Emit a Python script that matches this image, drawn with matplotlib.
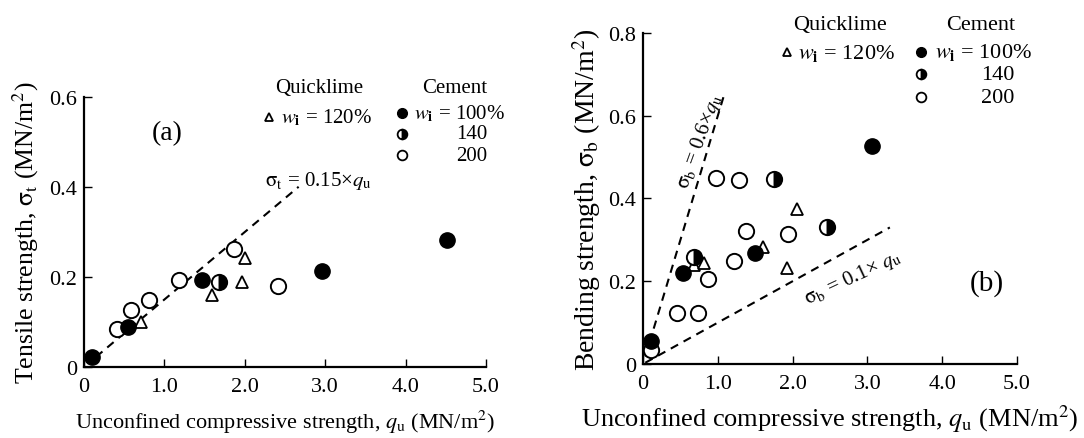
import numpy as np
from matplotlib import pyplot as plt

plt.rcParams["font.family"] = ["Liberation Serif", "DejaVu Serif"]
plt.rcParams["mathtext.fontset"] = "stix"

# (a) tensile strength vs unconfined compressive strength
a_lime_q = [0.71, 1.59, 2.00, 1.97]
a_lime_s = [0.100, 0.160, 0.243, 0.189]
a_c100_q = [0.10, 0.55, 1.47, 2.96, 4.51]
a_c100_s = [0.022, 0.089, 0.193, 0.213, 0.283]
a_c140_q = [1.68]
a_c140_s = [0.190]
a_c200_q = [0.41, 0.59, 0.81, 1.18, 1.87, 2.41]
a_c200_s = [0.084, 0.126, 0.148, 0.193, 0.263, 0.181]

# (b) bending strength vs unconfined compressive strength
b_lime_q = [0.68, 0.82, 1.60, 1.92, 2.06]
b_lime_s = [0.240, 0.244, 0.282, 0.232, 0.374]
b_c100_q = [0.10, 0.54, 1.50, 3.06]
b_c100_s = [0.056, 0.220, 0.268, 0.528]
b_c140_q = [0.68, 1.75, 2.46]
b_c140_s = [0.258, 0.446, 0.332]
b_c200_q = [0.10, 0.46, 0.73, 0.87, 0.98, 1.28, 1.38, 1.22, 1.94]
b_c200_s = [0.034, 0.124, 0.124, 0.206, 0.450, 0.444, 0.322, 0.248, 0.314]

x_ticks = [0, 1, 2, 3, 4, 5]
x_ticklabels = ["0", "1.0", "2.0", "3.0", "4.0", "5.0"]

FS = 15
xlab = r"Unconfined compressive strength, $q_\mathrm{u}$ (MN/m$^2$)"


def style_axes(ax, ymax, yticks, yticklabels):
    ax.set_xlim(0, 5)
    ax.set_ylim(0, ymax)
    for s in ["top", "right"]:
        ax.spines[s].set_visible(False)
    for s in ["left", "bottom"]:
        ax.spines[s].set_linewidth(1.6)
    ax.set_xticks(x_ticks)
    ax.set_xticklabels(x_ticklabels)
    ax.set_yticks(yticks)
    ax.set_yticklabels(yticklabels)
    ax.tick_params(direction="in", length=6, width=1.0, labelsize=FS + 1)
    ax.tick_params(axis="x", pad=7)
    ax.tick_params(axis="y", pad=5)


def scatter_groups(ax, lq, ls, q1, s1, q2, s2, q3, s3):
    ax.plot(lq, ls, "^", ms=9, mfc="white", mec="black", mew=1.3, clip_on=False, zorder=3)
    ax.plot(q3, s3, "o", ms=11, mfc="white", mec="black", mew=1.4, clip_on=False, zorder=3)
    ax.plot(q2, s2, "o", ms=11, fillstyle="right", mfc="black", mfcalt="white",
            mec="black", mew=1.4, clip_on=False, zorder=4)
    ax.plot(q1, s1, "o", ms=11, mfc="black", mec="black", clip_on=False, zorder=4)


def legend_block(ax, fs, qx, cx, ytop, tri_x, tri_y, c_x, c_ys, num_x, w_text_x):
    ax.text(qx, ytop, "Quicklime", ha="center", va="center", fontsize=fs, clip_on=False)
    ax.text(cx, ytop, "Cement", ha="center", va="center", fontsize=fs, clip_on=False)
    ax.plot([tri_x], [tri_y], "^", ms=6, mfc="white", mec="black", mew=1.3, clip_on=False)
    ax.text(tri_x + 0.15, tri_y, r"$w_\mathbf{i}$ = 120%", ha="left", va="center",
            fontsize=fs, clip_on=False)
    ax.plot([c_x], [c_ys[0]], "o", ms=7, mfc="black", mec="black", clip_on=False)
    ax.plot([c_x], [c_ys[1]], "o", ms=7, fillstyle="right", mfc="black", mfcalt="white",
            mec="black", mew=1.3, clip_on=False)
    ax.plot([c_x], [c_ys[2]], "o", ms=7, mfc="white", mec="black", mew=1.3, clip_on=False)
    ax.text(w_text_x, c_ys[0], r"$w_\mathbf{i}$ = 100%", ha="left", va="center",
            fontsize=fs, clip_on=False)
    ax.text(num_x, c_ys[1], "140", ha="right", va="center", fontsize=fs, clip_on=False)
    ax.text(num_x, c_ys[2], "200", ha="right", va="center", fontsize=fs, clip_on=False)


fig = plt.figure(figsize=(10.84, 4.39), dpi=100)

# panel (a)
ax1 = fig.add_axes([0.0775, 0.1617, 0.3708, 0.6151])
style_axes(ax1, 0.6, [0, 0.2, 0.4, 0.6], ["0", "0.2", "0.4", "0.6"])
qa = np.linspace(0.15, 2.67, 50)
ax1.plot(qa, 0.15 * qa, "k--", lw=1.5, dashes=(4, 3))
scatter_groups(ax1, a_lime_q, a_lime_s, a_c100_q, a_c100_s,
               a_c140_q, a_c140_s, a_c200_q, a_c200_s)
ax1.text(2.25, 0.415, r"$\mathrm{\sigma_t}$ = 0.15×$q_\mathrm{u}$", fontsize=FS,
         ha="left", va="center")
ax1.text(1.03, 0.52, "(a)", fontsize=20, ha="center", va="center")
legend_block(ax1, FS, 2.92, 4.61, 0.62, 2.30, 0.556, 3.96, [0.564, 0.518, 0.471], 5.02, 4.10)
ax1.set_xlabel(xlab, fontsize=16, labelpad=9)
ax1.set_ylabel(r"Tensile strength, $\mathrm{\sigma_t}$ (MN/m$^2$)", fontsize=18.5, labelpad=6)

# panel (b)
ax2 = fig.add_axes([0.5932, 0.1686, 0.3450, 0.7540])
style_axes(ax2, 0.8, [0, 0.2, 0.4, 0.6, 0.8], ["0", "0.2", "0.4", "0.6", "0.8"])
qb1 = np.linspace(0.03, 1.09, 50)
ax2.plot(qb1, 0.6 * qb1, "k--", lw=1.5, dashes=(4, 3))
qb2 = np.linspace(0.03, 3.3, 50)
ax2.plot(qb2, 0.1 * qb2, "k--", lw=1.5, dashes=(4, 3))
scatter_groups(ax2, b_lime_q, b_lime_s, b_c100_q, b_c100_s,
               b_c140_q, b_c140_s, b_c200_q, b_c200_s)
ax2.text(0.76, 0.54, r"$\mathrm{\sigma_b}$ = 0.6×$q_\mathrm{u}$", fontsize=FS,
         ha="center", va="center", rotation=70)
ax2.text(2.8, 0.21, r"$\mathrm{\sigma_b}$ = 0.1× $q_\mathrm{u}$", fontsize=FS,
         ha="center", va="center", rotation=25)
ax2.text(4.59, 0.198, "(b)", fontsize=21, ha="center", va="center")
legend_block(ax2, 16, 2.63, 4.51, 0.82, 1.92, 0.753, 3.72, [0.755, 0.70, 0.645], 4.97, 3.91)
ax2.set_xlabel(xlab, fontsize=19, labelpad=7)
ax2.set_ylabel(r"Bending strength, $\mathrm{\sigma_b}$ (MN/m$^2$)", fontsize=20, labelpad=4)

fig.savefig("out.png", dpi=100)
